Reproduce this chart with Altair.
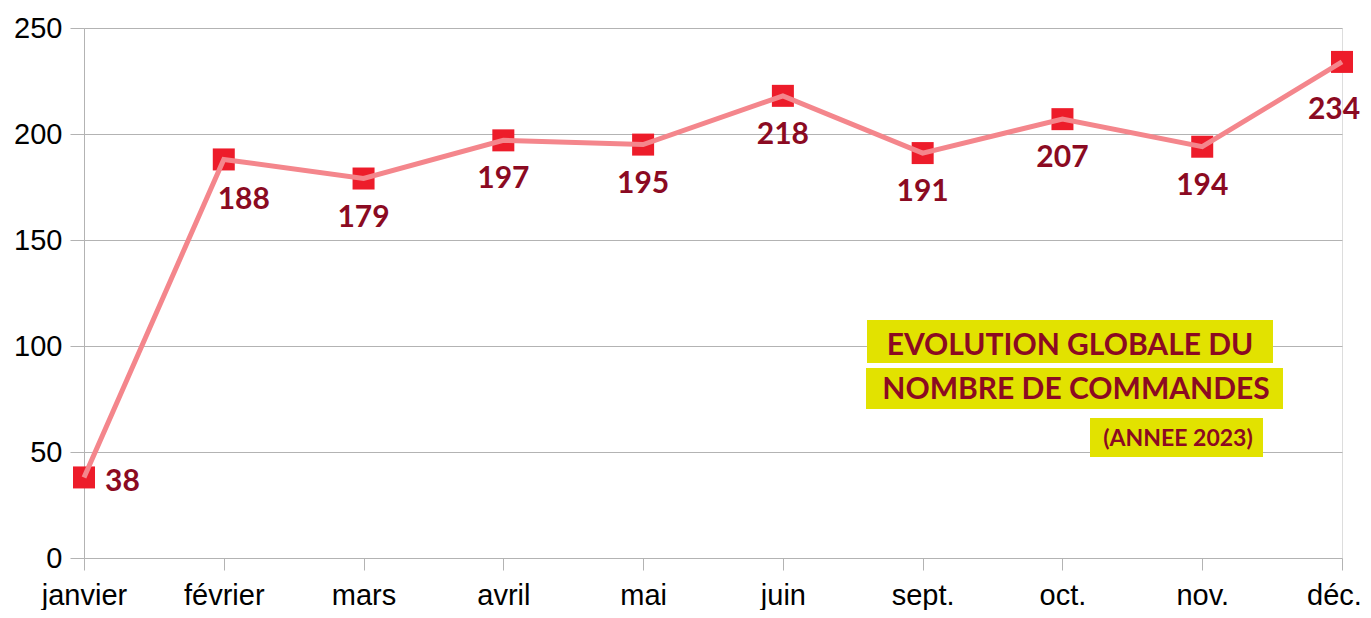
import altair as alt
import pandas as pd

months = ["janvier", "février", "mars", "avril", "mai", "juin", "sept.", "oct.", "nov.", "déc."]
orders = [38, 188, 179, 197, 195, 218, 191, 207, 194, 234]
y_ticks = [0, 50, 100, 150, 200, 250]
title_lines = ["EVOLUTION GLOBALE DU", "NOMBRE DE COMMANDES", "(ANNEE 2023)"]

df = pd.DataFrame({"mois": months, "commandes": orders})

W, H = 1258, 530
GRID = "#b3b3b3"
DARK_RED = "#8b0a22"
MARKER = "#ed1c2a"
LINE = "#f4868c"
YELLOW = "#e2e200"

x_enc = alt.X(
    "mois:N", sort=months,
    scale=alt.Scale(type="point", padding=0),
    axis=alt.Axis(title=None, labelAngle=0, labelFont="Liberation Sans", labelFontSize=29,
                  labelColor="black", tickColor=GRID, tickSize=12, labelPadding=11,
                  labelOffset={"condition": {"test": "datum.label === 'déc.'", "value": -8},
                               "value": 0},
                  domain=False, grid=False),
)
y_enc = alt.Y(
    "commandes:Q",
    scale=alt.Scale(domain=[0, 250], nice=False, zero=True),
    axis=alt.Axis(title=None, values=y_ticks, labelFont="Liberation Sans", labelFontSize=29,
                  labelColor="black", tickColor=GRID, tickSize=14, labelPadding=8,
                  domainColor=GRID, gridColor=GRID, grid=True),
)

base = alt.Chart(df).encode(x=x_enc, y=y_enc)

points = base.mark_square(size=484, color=MARKER, opacity=1)
line = base.mark_line(color=LINE, strokeWidth=5)

label_style = dict(font="Lato", fontWeight="bold", fontSize=30, color=DARK_RED, baseline="middle")
lab_first = base.transform_filter(alt.datum.mois == months[0]).mark_text(
    align="left", dx=21, dy=5, **label_style).encode(text="commandes:Q")
lab_second = base.transform_filter(alt.datum.mois == months[1]).mark_text(
    align="center", dx=20, dy=41, **label_style).encode(text="commandes:Q")
lab_last = base.transform_filter(alt.datum.mois == months[-1]).mark_text(
    align="center", dx=-8, dy=48, **label_style).encode(text="commandes:Q")
lab_mid = base.transform_filter(
    (alt.datum.mois != months[0]) & (alt.datum.mois != months[1]) & (alt.datum.mois != months[-1])
).mark_text(align="center", dy=39, **label_style).encode(text="commandes:Q")


def box(x1, x2, y1, y2):
    return alt.Chart(pd.DataFrame({"k": [0]})).mark_rect(color=YELLOW).encode(
        x=alt.value(x1), x2=alt.value(x2), y=alt.value(y1), y2=alt.value(y2))


def title_text(txt, cx, cy, size):
    return alt.Chart(pd.DataFrame({"t": [txt]})).mark_text(
        font="Lato", fontWeight="bold", fontSize=size, color=DARK_RED,
        align="center", baseline="middle").encode(
        x=alt.value(cx), y=alt.value(cy), text="t:N")


annot = (
    box(783, 1189, 292, 335) + box(782, 1199, 340, 381) + box(1006, 1179, 390, 429)
    + title_text(title_lines[0], 986, 318, 30)
    + title_text(title_lines[1], 992, 362, 30)
    + title_text(title_lines[2], 1094, 411, 23)
)

chart = alt.layer(points, line, lab_first, lab_second, lab_mid, lab_last, annot).properties(
    width=W, height=H,
    autosize=alt.AutoSizeParams(type="none"),
    padding={"left": 76, "top": 20, "right": 21, "bottom": 52},
).configure_view(stroke=GRID, strokeWidth=1).configure(background="white")

chart.save("out.html", embed_options={"renderer": "svg", "actions": False})
